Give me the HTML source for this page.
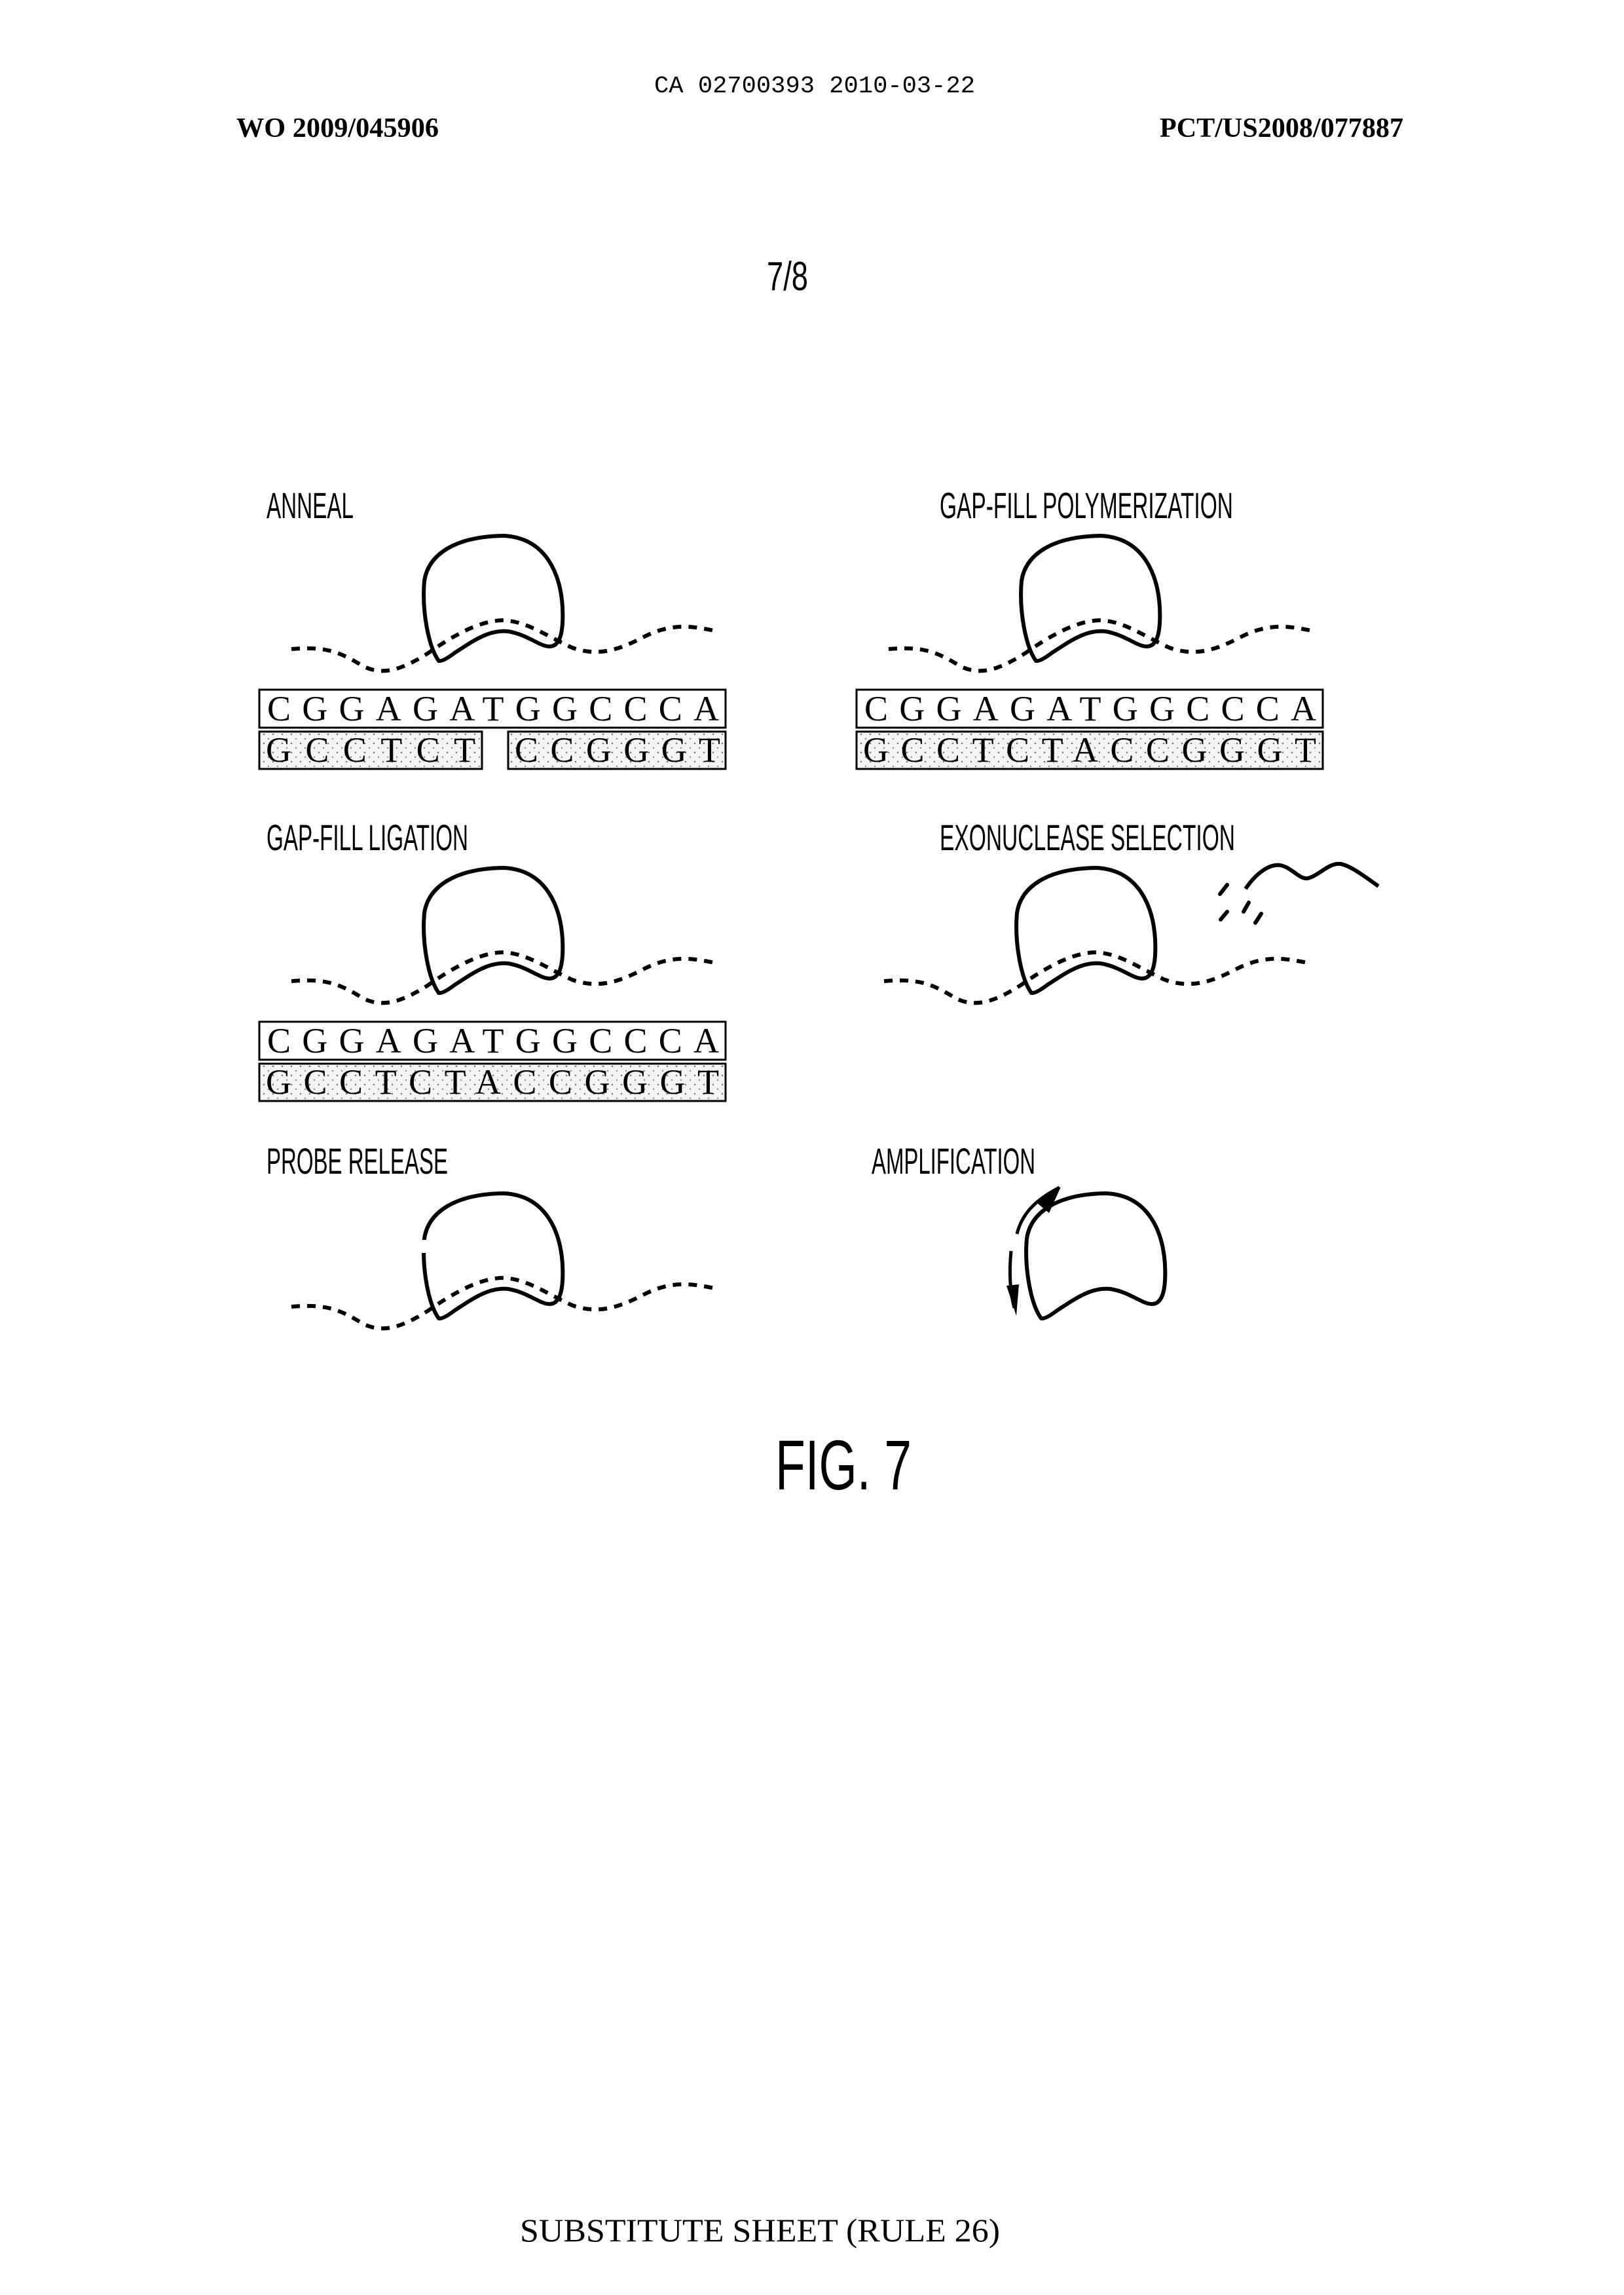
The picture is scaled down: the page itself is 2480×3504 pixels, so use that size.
<!DOCTYPE html>
<html><head><meta charset="utf-8"><style>html,body{margin:0;padding:0;background:#fff}svg{display:block}</style></head><body>
<svg width="2480" height="3504" viewBox="0 0 2480 3504" xmlns="http://www.w3.org/2000/svg">
<defs>
<pattern id="dots" width="14" height="14" patternUnits="userSpaceOnUse">
<rect width="14" height="14" fill="#f4f4f4"/>
<circle cx="3" cy="4" r="1.3" fill="#777"/><circle cx="10" cy="11" r="1.2" fill="#888"/>
</pattern>
<g id="loop">
<path d="M676 1012 C660 990,650 935,654 890 C660 850,700 822,775 821 C840 824,862 880,865 930 C867 972,860 990,845 990 C830 990,812 972,782 967 C752 964,728 982,700 1000 C688 1009,680 1013,676 1012 Z" fill="none" stroke="#000" stroke-width="6" stroke-linejoin="round"/>
</g>
<g id="dash">
<path d="M451 994 C500 990,522 996,560 1020 C592 1036,622 1024,660 1000 C700 972,740 950,775 950 C812 952,842 975,880 992 C920 1006,952 995,990 975 C1030 955,1060 958,1097 966" fill="none" stroke="#000" stroke-width="6" stroke-dasharray="13 11"/>
</g>
<g id="top">
<rect x="402" y="1056" width="712" height="58" fill="#fff" stroke="#000" stroke-width="3"/>
<text x="414" y="1103" font-family="Liberation Serif, serif" font-size="54" textLength="690" lengthAdjust="spacing">CGGAGATGGCCCA</text>
</g>
<g id="full">
<rect x="402" y="1120" width="712" height="57" fill="url(#dots)" stroke="#000" stroke-width="3"/>
<text x="412" y="1166" font-family="Liberation Serif, serif" font-size="54" textLength="692" lengthAdjust="spacing">GCCTCTACCGGGT</text>
</g>
</defs>
<g transform="translate(-6,-3)">
<g font-family="Liberation Sans, sans-serif">
<text x="1005" y="144" font-family="Liberation Mono, monospace" font-size="36" textLength="490" lengthAdjust="spacingAndGlyphs">CA 02700393 2010-03-22</text>
<text x="367" y="212" font-family="Liberation Serif, serif" font-weight="bold" font-size="42" textLength="309" lengthAdjust="spacingAndGlyphs">WO 2009/045906</text>
<text x="1777" y="212" font-family="Liberation Serif, serif" font-weight="bold" font-size="42" textLength="372" lengthAdjust="spacingAndGlyphs">PCT/US2008/077887</text>
<text x="1177" y="446" font-size="62" textLength="63" lengthAdjust="spacingAndGlyphs">7/8</text>
<text x="413" y="794" font-size="56" textLength="133" lengthAdjust="spacingAndGlyphs">ANNEAL</text>
<text x="1441" y="794" font-size="56" textLength="448" lengthAdjust="spacingAndGlyphs">GAP-FILL POLYMERIZATION</text>
<text x="413" y="1301" font-size="56" textLength="308" lengthAdjust="spacingAndGlyphs">GAP-FILL LIGATION</text>
<text x="1441" y="1301" font-size="56" textLength="451" lengthAdjust="spacingAndGlyphs">EXONUCLEASE SELECTION</text>
<text x="413" y="1795" font-size="56" textLength="277" lengthAdjust="spacingAndGlyphs">PROBE RELEASE</text>
<text x="1337" y="1795" font-size="56" textLength="250" lengthAdjust="spacingAndGlyphs">AMPLIFICATION</text>
<text x="1190" y="2277" font-size="108" textLength="208" lengthAdjust="spacingAndGlyphs">FIG. 7</text>
<text x="800" y="3425" font-family="Liberation Serif, serif" font-size="50" textLength="733" lengthAdjust="spacingAndGlyphs">SUBSTITUTE SHEET (RULE 26)</text>
</g>
<!-- Anneal -->
<use href="#dash"/><use href="#loop"/><use href="#top"/>
<rect x="402" y="1120" width="340" height="57" fill="url(#dots)" stroke="#000" stroke-width="3"/>
<text x="412" y="1166" font-family="Liberation Serif, serif" font-size="54" textLength="320" lengthAdjust="spacing">GCCTCT</text>
<rect x="782" y="1120" width="332" height="57" fill="url(#dots)" stroke="#000" stroke-width="3"/>
<text x="792" y="1166" font-family="Liberation Serif, serif" font-size="54" textLength="314" lengthAdjust="spacing">CCGGGT</text>
<!-- Polymerization -->
<g transform="translate(912,0)"><use href="#dash"/><use href="#loop"/><use href="#top"/><use href="#full"/></g>
<!-- Ligation -->
<g transform="translate(0,507)"><use href="#dash"/><use href="#loop"/><use href="#top"/><use href="#full"/></g>
<!-- Exonuclease -->
<g transform="translate(905,507)"><use href="#dash"/><use href="#loop"/></g>
<path d="M1908 1360 C1925 1335,1945 1322,1961 1324 C1980 1328,1990 1346,2003 1344 C2020 1340,2035 1320,2053 1322 C2070 1325,2095 1345,2111 1356" fill="none" stroke="#000" stroke-width="6"/>
<g stroke="#000" stroke-width="6" stroke-linecap="round">
<line x1="1880" y1="1354" x2="1869" y2="1368"/><line x1="1880" y1="1395" x2="1870" y2="1407"/>
<line x1="1913" y1="1381" x2="1905" y2="1395"/><line x1="1932" y1="1398" x2="1923" y2="1412"/>
</g>
<!-- Probe release -->
<g transform="translate(0,1004)"><use href="#dash"/><use href="#loop"/><rect x="644" y="892" width="22" height="20" fill="#fff"/></g>
<!-- Amplification -->
<g transform="translate(920,1004)"><use href="#loop"/></g>
<path d="M1559 1887 C1566 1858,1585 1836,1624 1816" fill="none" stroke="#000" stroke-width="5"/>
<polygon points="1626,1815 1590,1840 1608,1855" fill="#000"/>
<path d="M1550 1913 C1547 1945,1548 1975,1555 2000" fill="none" stroke="#000" stroke-width="5"/>
<polygon points="1558,2012 1543,1966 1562,1964" fill="#000"/>
</g>
</svg>
</body></html>
